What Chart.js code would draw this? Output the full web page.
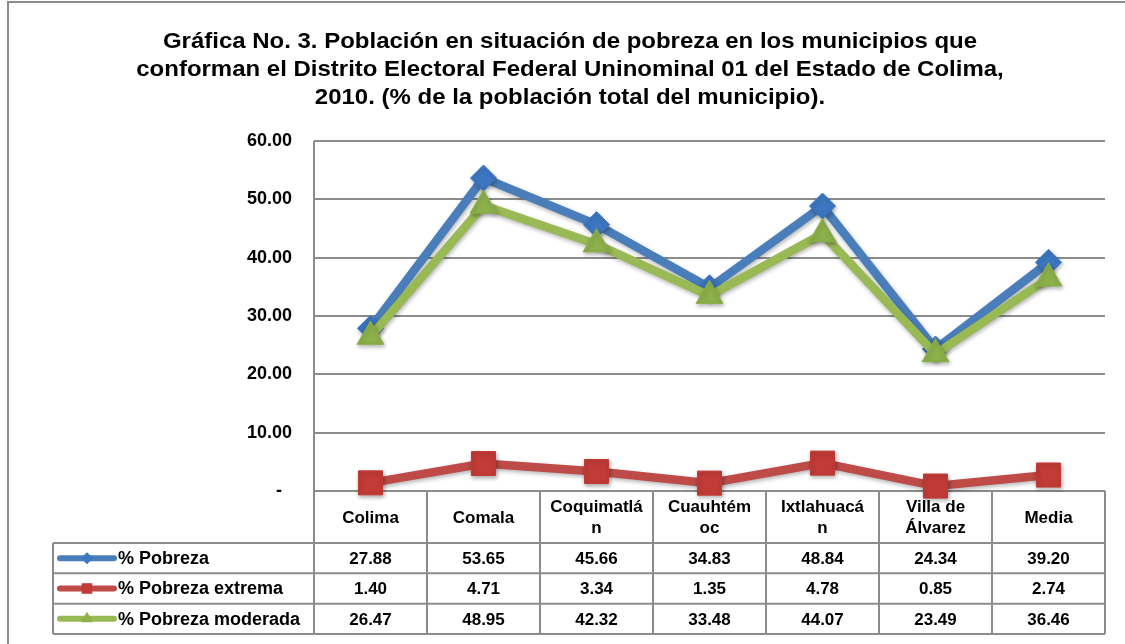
<!DOCTYPE html>
<html>
<head>
<meta charset="utf-8">
<script src="https://cdn.jsdelivr.net/npm/chart.js@4.4.0/dist/chart.umd.min.js"></script>
<style>
html,body{margin:0;padding:0;background:#ffffff;}
#wrap{width:1125px;height:644px;position:relative;}
</style>
</head>
<body>
<div id="wrap"><canvas id="c" width="1125" height="644"></canvas></div>
<script>
// ---- data ----
const titleLines = [
  'Gráfica No. 3. Población en situación de pobreza en los municipios que',
  'conforman el Distrito Electoral Federal Uninominal 01 del Estado de Colima,',
  '2010. (% de la población total del municipio).'
];
const categories = [['Colima'], ['Comala'], ['Coquimatlá', 'n'], ['Cuauhtém', 'oc'], ['Ixtlahuacá', 'n'], ['Villa de', 'Álvarez'], ['Media']];
const seriesNames = ['% Pobreza', '% Pobreza extrema', '% Pobreza moderada'];
const pobreza = [27.88, 53.65, 45.66, 34.83, 48.84, 24.34, 39.20];
const pobrezaExtrema = [1.40, 4.71, 3.34, 1.35, 4.78, 0.85, 2.74];
const pobrezaModerada = [26.47, 48.95, 42.32, 33.48, 44.07, 23.49, 36.46];
const yMin = 0, yMax = 60, yStep = 10;

// ---- styles ----
const FONT = '"Liberation Sans", Arial, sans-serif';
const lineColors = ['#4A7EBB', '#BE4B48', '#98B954'];
const markerColors = ['#3C76C0', '#C23B36', '#8DB04A'];
const markerStyles = ['rectRot', 'rect', 'triangle'];
const markerRadius = [13, 17, 15.5];
const gridColor = '#8C8C8C';

const seriesData = [pobreza, pobrezaExtrema, pobrezaModerada];

function drawMarker(ctx, style, x, y, r, color) {
  ctx.save();
  ctx.fillStyle = color;
  ctx.beginPath();
  if (style === 'rectRot') {
    ctx.moveTo(x - r, y); ctx.lineTo(x, y - r); ctx.lineTo(x + r, y); ctx.lineTo(x, y + r);
  } else if (style === 'rect') {
    const s = r * Math.SQRT1_2;
    ctx.rect(x - s, y - s, 2 * s, 2 * s);
  } else {
    ctx.moveTo(x, y - r);
    ctx.lineTo(x + r * 0.866, y + r * 0.5);
    ctx.lineTo(x - r * 0.866, y + r * 0.5);
  }
  ctx.closePath();
  ctx.fill();
  ctx.restore();
}

const framePlugin = {
  id: 'frameTable',
  beforeDatasetsDraw(chart) {
    const ctx = chart.ctx;
    const ca = chart.chartArea;
    const xs = chart.scales.x;
    const n = categories.length;
    const bw = (ca.right - ca.left) / n;
    const headerBot = 543;
    const rowTops = [543, 573.3, 603.7, 634];
    const legLeft = 53;

    ctx.save();
    // outer frame
    ctx.strokeStyle = '#8C8C8C';
    ctx.lineWidth = 2;
    ctx.beginPath();
    ctx.moveTo(8, 644); ctx.lineTo(8, 2); ctx.lineTo(1125, 2);
    ctx.stroke();

    // title (slightly widened to match the reference lettering)
    ctx.fillStyle = '#000';
    ctx.font = 'bold 22px ' + FONT;
    ctx.textAlign = 'center';
    ctx.textBaseline = 'alphabetic';
    const tb = [48, 76, 104];
    const sx = 1.09;
    titleLines.forEach((t, i) => {
      ctx.save();
      ctx.translate(570, tb[i]);
      ctx.scale(sx, 1);
      ctx.fillText(t, 0, 0);
      ctx.restore();
    });

    // table lines
    ctx.strokeStyle = gridColor;
    ctx.lineWidth = 2;
    ctx.beginPath();
    ctx.moveTo(ca.left, ca.top); ctx.lineTo(ca.left, rowTops[3]);
    rowTops.forEach(y => { ctx.moveTo(legLeft, y); ctx.lineTo(ca.right, y); });
    ctx.moveTo(legLeft, rowTops[0]); ctx.lineTo(legLeft, rowTops[3]);
    for (let k = 1; k <= n; k++) {
      const x = ca.left + k * bw;
      ctx.moveTo(x, ca.bottom); ctx.lineTo(x, rowTops[3]);
    }
    ctx.stroke();

    // header text
    ctx.fillStyle = '#000';
    ctx.font = 'bold 17px ' + FONT;
    ctx.textAlign = 'center';
    ctx.textBaseline = 'middle';
    categories.forEach((lab, i) => {
      const cx = xs.getPixelForValue(i);
      const mid = (ca.bottom + headerBot) / 2;
      if (lab.length === 1) {
        ctx.fillText(lab[0], cx, mid + 1);
      } else {
        ctx.fillText(lab[0], cx, mid - 10);
        ctx.fillText(lab[1], cx, mid + 11);
      }
    });

    // rows
    seriesData.forEach((arr, r) => {
      const cy = (rowTops[r] + rowTops[r + 1]) / 2 + 1;
      arr.forEach((v, i) => {
        ctx.font = 'bold 17px ' + FONT;
        ctx.textAlign = 'center';
        ctx.fillStyle = '#000';
        ctx.fillText(v.toFixed(2), xs.getPixelForValue(i), cy);
      });
      ctx.strokeStyle = lineColors[r];
      ctx.lineWidth = 6;
      ctx.lineCap = 'round';
      ctx.beginPath();
      ctx.moveTo(60, cy - 1); ctx.lineTo(114, cy - 1);
      ctx.stroke();
      const lr = [6, 7.5, 7][r];
      drawMarker(ctx, markerStyles[r], 87, cy - 1, lr, markerColors[r]);
      ctx.fillStyle = '#000';
      ctx.font = 'bold 18px ' + FONT;
      ctx.textAlign = 'left';
      ctx.fillText(seriesNames[r], 118, cy);
    });
    ctx.restore();
  },
  beforeDatasetDraw(chart) {
    const ctx = chart.ctx;
    ctx.save();
    ctx.shadowColor = 'rgba(0,0,0,0.3)';
    ctx.shadowBlur = 4;
    ctx.shadowOffsetX = 1;
    ctx.shadowOffsetY = 2;
  },
  afterDatasetDraw(chart) {
    chart.ctx.restore();
  }
};

new Chart(document.getElementById('c'), {
  type: 'line',
  data: {
    labels: categories,
    datasets: seriesNames.map((name, i) => ({
      label: name,
      data: seriesData[i],
      borderColor: lineColors[i],
      backgroundColor: markerColors[i],
      borderWidth: 8.5,
      pointStyle: markerStyles[i],
      pointRadius: markerRadius[i],
      pointBackgroundColor: markerColors[i],
      pointBorderColor: markerColors[i],
      pointBorderWidth: 1,
      tension: 0,
      clip: false,
      order: 3 - i
    }))
  },
  options: {
    responsive: false,
    devicePixelRatio: 1,
    animation: false,
    layout: { padding: { top: 141, bottom: 153, left: 0, right: 20 } },
    plugins: {
      legend: { display: false },
      title: { display: false },
      tooltip: { enabled: false }
    },
    scales: {
      x: {
        display: false,
        offset: true
      },
      y: {
        min: yMin,
        max: yMax,
        afterFit(scale) { scale.width = 314; },
        afterBuildTicks(scale) {
          const t = [];
          for (let v = yMin; v <= yMax; v += yStep) t.push({ value: v });
          scale.ticks = t;
        },
        grid: { color: gridColor, lineWidth: 2, drawTicks: false },
        border: { display: false },
        ticks: {
          padding: 22,
          color: '#000',
          font: { family: FONT, size: 18, weight: 'bold' },
          callback: (v) => v === 0 ? '-  ' : Number(v).toFixed(2)
        }
      }
    }
  },
  plugins: [framePlugin]
});
</script>
</body>
</html>
